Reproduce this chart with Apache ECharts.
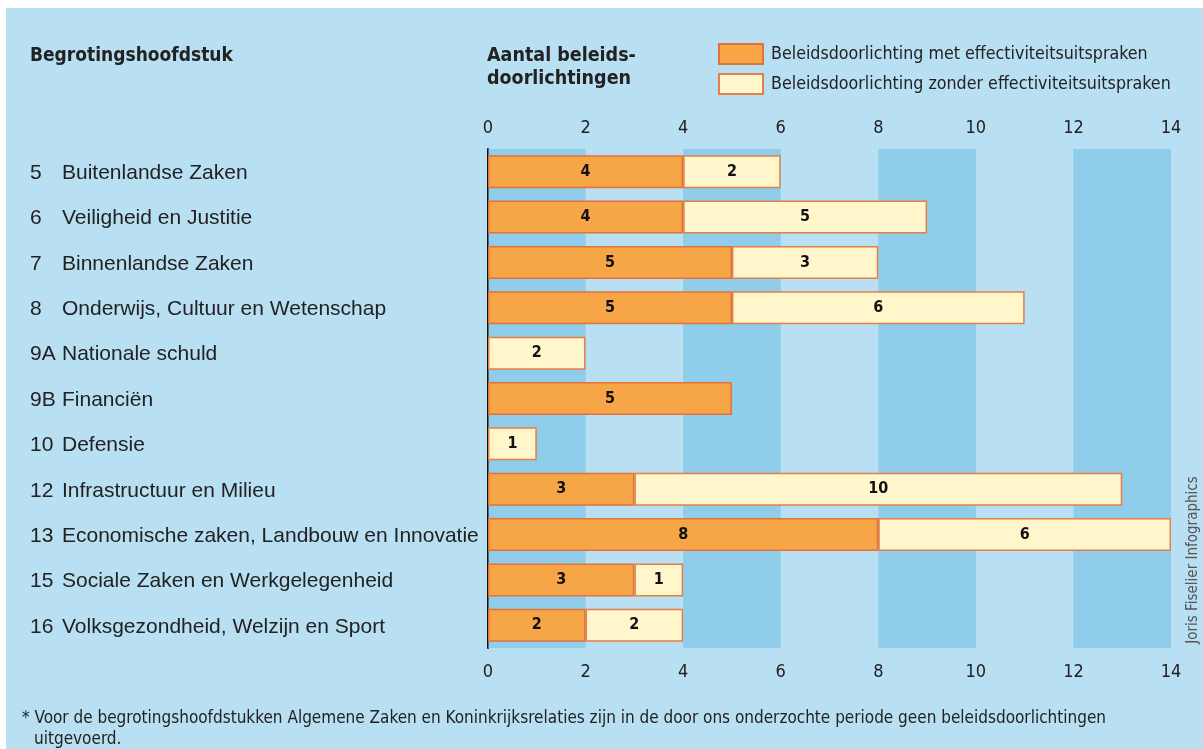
<!DOCTYPE html>
<html>
<head>
<meta charset="utf-8">
<script src="https://cdn.jsdelivr.net/npm/echarts@6/dist/echarts.min.js"></script>
<style>
html,body{margin:0;padding:0;background:#fff;}
#chart{width:1203px;height:749px;}
</style>
</head>
<body>
<div id="chart"></div>
<script>
const chapterNumbers = ['5','6','7','8','9A','9B','10','12','13','15','16'];
const chapterNames = [
  'Buitenlandse Zaken',
  'Veiligheid en Justitie',
  'Binnenlandse Zaken',
  'Onderwijs, Cultuur en Wetenschap',
  'Nationale schuld',
  'Financiën',
  'Defensie',
  'Infrastructuur en Milieu',
  'Economische zaken, Landbouw en Innovatie',
  'Sociale Zaken en Werkgelegenheid',
  'Volksgezondheid, Welzijn en Sport'
];
const metEffectiviteit = [4, 4, 5, 5, null, 5, null, 3, 8, 3, 2];
const zonderEffectiviteit = [2, 5, 3, 6, 2, null, 1, 10, 6, 1, 2];
const seriesNames = ['Beleidsdoorlichting met effectiviteitsuitspraken', 'Beleidsdoorlichting zonder effectiviteitsuitspraken'];
const xTicks = {min: 0, max: 14, interval: 2};

const condensed = "'Liberation Sans Narrow', 'DejaVu Sans Condensed', 'Arial Narrow', sans-serif";
const regular = "'Liberation Sans', Arial, Helvetica, sans-serif";

const categories = chapterNumbers.map((n, i) => n + '|' + chapterNames[i]);

const chart = echarts.init(document.getElementById('chart'));

const labelStyle = {
  show: true,
  position: 'inside',
  color: '#111',
  fontFamily: condensed,
  fontWeight: 'bold',
  fontSize: 16,
  formatter: p => p.value
};

const xAxisBase = {
  type: 'value',
  min: xTicks.min,
  max: xTicks.max,
  interval: xTicks.interval,
  axisLine: {show: false},
  axisTick: {show: false},
  splitLine: {show: false},
  axisLabel: {color: '#222', fontFamily: condensed, fontSize: 18}
};

chart.setOption({
  backgroundColor: '#b9dff2',
  animation: false,
  grid: {left: 488, right: 32, top: 149, height: 499, containLabel: false},
  legend: {
    orient: 'vertical',
    left: 718,
    top: 43,
    padding: 0,
    itemWidth: 44,
    itemHeight: 20,
    itemGap: 8,
    icon: 'rect',
    selectedMode: false,
    textStyle: {color: '#222', fontFamily: condensed, fontSize: 17.7, padding: [0, 0, 0, 3]},
    data: seriesNames
  },
  xAxis: [
    Object.assign({}, xAxisBase, {
      position: 'top',
      axisLabel: Object.assign({}, xAxisBase.axisLabel, {margin: 12}),
      splitArea: {show: true, areaStyle: {color: ['#8fcdea', 'rgba(0,0,0,0)']}}
    }),
    Object.assign({}, xAxisBase, {
      position: 'bottom',
      axisLabel: Object.assign({}, xAxisBase.axisLabel, {margin: 15}),
      splitArea: {show: false}
    })
  ],
  yAxis: [
    {
      type: 'category',
      inverse: true,
      data: categories,
      axisLine: {show: true, lineStyle: {color: '#111', width: 2}},
      axisTick: {show: false},
      axisLabel: {
        align: 'left',
        margin: 458,
        formatter: v => {
          const parts = v.split('|');
          return '{n|' + parts[0] + '}{t|' + parts[1] + '}';
        },
        rich: {
          n: {width: 32, fontSize: 21, fontFamily: regular, color: '#222', padding: [3, 0, 0, 0]},
          t: {fontSize: 21, fontFamily: regular, color: '#222', padding: [3, 0, 0, 0]}
        }
      }
    },
    {
      type: 'category',
      inverse: true,
      position: 'right',
      data: categories,
      axisLine: {show: true, lineStyle: {color: '#666', width: 1}},
      axisTick: {show: false},
      axisLabel: {show: false}
    }
  ],
  series: [
    {
      name: seriesNames[0],
      type: 'bar',
      stack: 'total',
      barWidth: 33,
      xAxisIndex: 0,
      yAxisIndex: 0,
      data: metEffectiviteit,
      itemStyle: {color: '#f6a547', borderColor: '#e3723a', borderWidth: 1.5},
      label: labelStyle
    },
    {
      name: seriesNames[1],
      type: 'bar',
      stack: 'total',
      barWidth: 33,
      xAxisIndex: 0,
      yAxisIndex: 0,
      data: zonderEffectiviteit,
      itemStyle: {color: '#fff6cc', borderColor: '#e67e48', borderWidth: 1.5},
      label: labelStyle
    }
  ],
  graphic: [
    {type: 'rect', shape: {x: 0, y: 0, width: 1203, height: 8}, style: {fill: '#ffffff'}, silent: true},
    {type: 'rect', shape: {x: 0, y: 0, width: 6, height: 749}, style: {fill: '#ffffff'}, silent: true},
    {type: 'text', left: 30, top: 47, style: {text: 'Begrotingshoofdstuk', fill: '#222', font: 'bold 19px ' + condensed}},
    {type: 'text', left: 487, top: 44, style: {text: 'Aantal beleids-\ndoorlichtingen', fill: '#222', font: 'bold 19.5px ' + condensed, lineHeight: 23}},
    {type: 'text', x: 1193, y: 560, rotation: Math.PI / 2, style: {text: 'Joris Fiselier Infographics', fill: '#555', font: '15px ' + condensed, align: 'center', verticalAlign: 'middle'}},
    {type: 'text', left: 22, top: 710, style: {text: '* Voor de begrotingshoofdstukken Algemene Zaken en Koninkrijksrelaties zijn in de door ons onderzochte periode geen beleidsdoorlichtingen', fill: '#222', font: '17px ' + condensed}},
    {type: 'text', left: 34, top: 731, style: {text: 'uitgevoerd.', fill: '#222', font: '17px ' + condensed}}
  ]
});
</script>
</body>
</html>
